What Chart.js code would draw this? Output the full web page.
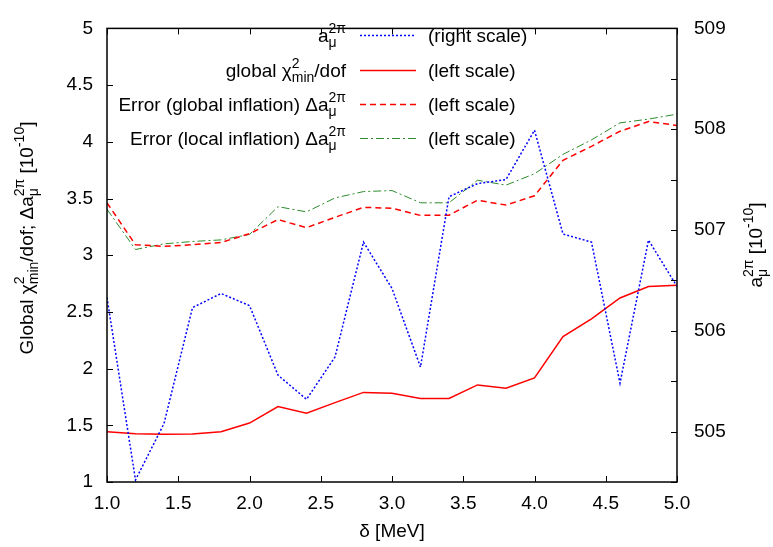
<!DOCTYPE html>
<html>
<head>
<meta charset="utf-8">
<script src="https://cdn.jsdelivr.net/npm/chart.js@4/dist/chart.umd.min.js"></script>
<style>
html,body{margin:0;padding:0;background:#fff;}
#c{display:block;}
</style>
</head>
<body>
<canvas id="c" width="773" height="547"></canvas>
<script>
// ---- data ----
const deltaValues = [1.0, 1.2, 1.4, 1.6, 1.8, 2.0, 2.2, 2.4, 2.6, 2.8, 3.0, 3.2, 3.4, 3.6, 3.8, 4.0, 4.2, 4.4, 4.6, 4.8, 5.0];
const amu2pi = [506.33, 504.52, 505.08, 506.23, 506.37, 506.25, 505.56, 505.32, 505.74, 506.88, 506.42, 505.64, 507.33, 507.46, 507.50, 507.99, 506.96, 506.88, 505.48, 506.90, 506.44];
const chi2dof = [1.443, 1.426, 1.420, 1.423, 1.443, 1.520, 1.665, 1.606, 1.700, 1.790, 1.782, 1.736, 1.736, 1.856, 1.827, 1.918, 2.282, 2.438, 2.623, 2.723, 2.734];
const errGlobal = [3.462, 3.092, 3.078, 3.092, 3.112, 3.190, 3.314, 3.243, 3.334, 3.422, 3.414, 3.351, 3.353, 3.485, 3.442, 3.524, 3.837, 3.960, 4.093, 4.179, 4.144];
const errLocal = [3.405, 3.050, 3.100, 3.121, 3.135, 3.183, 3.428, 3.382, 3.505, 3.561, 3.570, 3.462, 3.462, 3.661, 3.618, 3.718, 3.889, 4.017, 4.167, 4.200, 4.244];
const xTicks = [1.0, 1.5, 2.0, 2.5, 3.0, 3.5, 4.0, 4.5, 5.0];
const leftTicks = [1, 1.5, 2, 2.5, 3, 3.5, 4, 4.5, 5];
const rightTicks = [505, 506, 507, 508, 509];
const scaleNotes = ['(right scale)', '(left scale)', '(left scale)', '(left scale)'];

const FONT = '"Liberation Sans", Arial, sans-serif';
const FS = 19;
const pts = arr => deltaValues.map((x, i) => ({x: x, y: arr[i]}));

const styles = [
  {color: '#0000ff', dash: [2, 2], width: 1.5},
  {color: '#ff0000', dash: [], width: 1.5},
  {color: '#ff0000', dash: [6, 4], width: 1.5},
  {color: '#2e8b2e', dash: [8, 3, 2, 3], width: 1}
];

function drawRich(ctx, parts, x, y, align, size) {
  const big = size + 'px ' + FONT;
  const sm = Math.round(size * 0.72) + 'px ' + FONT;
  const widths = parts.map(p => {
    if (p.t !== undefined) { ctx.font = big; return ctx.measureText(p.t).width; }
    ctx.font = sm;
    return Math.max(p.sup ? ctx.measureText(p.sup).width : 0, p.sub ? ctx.measureText(p.sub).width : 0);
  });
  const total = widths.reduce((a, b) => a + b, 0);
  let cx = align === 'right' ? x - total : (align === 'center' ? x - total / 2 : x);
  ctx.textAlign = 'left';
  ctx.textBaseline = 'alphabetic';
  parts.forEach((p, i) => {
    if (p.t !== undefined) { ctx.font = big; ctx.fillText(p.t, cx, y); }
    else {
      ctx.font = sm;
      if (p.sup) ctx.fillText(p.sup, cx, y - size * 0.45);
      if (p.sub) ctx.fillText(p.sub, cx, y + size * 0.28);
    }
    cx += widths[i];
  });
}

const legendParts = [
  [{t: 'a'}, {sup: '2\u03c0', sub: '\u03bc'}],
  [{t: 'global \u03c7'}, {sup: '2', sub: 'min'}, {t: '/dof'}],
  [{t: 'Error (global inflation) \u0394a'}, {sup: '2\u03c0', sub: '\u03bc'}],
  [{t: 'Error (local inflation) \u0394a'}, {sup: '2\u03c0', sub: '\u03bc'}]
];

const decor = {
  id: 'decor',
  afterDraw(chart) {
    const ctx = chart.ctx;
    const a = chart.chartArea;
    const sx = chart.scales.x, sy = chart.scales.y, sy1 = chart.scales.y1;
    ctx.save();
    ctx.strokeStyle = '#000';
    ctx.lineWidth = 1.5;
    ctx.setLineDash([]);
    ctx.strokeRect(a.left, a.top, a.right - a.left, a.bottom - a.top);
    const L = 6;
    ctx.lineWidth = 1;
    ctx.beginPath();
    sx.ticks.forEach(t => {
      const px = Math.round(sx.getPixelForValue(t.value)) + 0.5;
      ctx.moveTo(px, a.bottom); ctx.lineTo(px, a.bottom - L);
      ctx.moveTo(px, a.top); ctx.lineTo(px, a.top + L);
    });
    sy.ticks.forEach(t => {
      const py = Math.round(sy.getPixelForValue(t.value)) + 0.5;
      ctx.moveTo(a.left, py); ctx.lineTo(a.left + L, py);
    });
    sy1.ticks.forEach(t => {
      const py = Math.round(sy1.getPixelForValue(t.value)) + 0.5;
      ctx.moveTo(a.right, py); ctx.lineTo(a.right - L, py);
    });
    ctx.stroke();

    // legend
    ctx.fillStyle = '#000';
    const rowY = [35, 70, 104, 138];
    rowY.forEach((ry, i) => {
      drawRich(ctx, legendParts[i], 346, ry + 7, 'right', FS);
      ctx.font = FS + 'px ' + FONT;
      ctx.textAlign = 'left';
      ctx.fillText(scaleNotes[i], 428, ry + 7);
      ctx.beginPath();
      ctx.strokeStyle = styles[i].color;
      ctx.lineWidth = styles[i].width;
      ctx.setLineDash(styles[i].dash);
      ctx.moveTo(360, ry + 0.5); ctx.lineTo(416, ry + 0.5);
      ctx.stroke();
      ctx.setLineDash([]);
    });

    // axis titles
    ctx.fillStyle = '#000';
    drawRich(ctx, [{t: '\u03b4 [MeV]'}], (a.left + a.right) / 2, 537, 'center', FS);
    ctx.save();
    ctx.translate(33, 238);
    ctx.rotate(-Math.PI / 2);
    drawRich(ctx, [{t: 'Global \u03c7'}, {sup: '2', sub: 'min'}, {t: '/dof; \u0394a'}, {sup: '2\u03c0', sub: '\u03bc'}, {t: ' [10'}, {sup: '-10'}, {t: ']'}], 0, 0, 'center', FS);
    ctx.restore();
    ctx.save();
    ctx.translate(762, 245);
    ctx.rotate(-Math.PI / 2);
    drawRich(ctx, [{t: 'a'}, {sup: '2\u03c0', sub: '\u03bc'}, {t: ' [10'}, {sup: '-10'}, {t: ']'}], 0, 0, 'center', FS);
    ctx.restore();
    ctx.restore();
  }
};

const datasets = [
  {label: 'a_mu^2pi', data: pts(amu2pi), yAxisID: 'y1'},
  {label: 'global chi2/dof', data: pts(chi2dof), yAxisID: 'y'},
  {label: 'Error (global inflation)', data: pts(errGlobal), yAxisID: 'y'},
  {label: 'Error (local inflation)', data: pts(errLocal), yAxisID: 'y'}
].map((d, i) => Object.assign(d, {
  borderColor: styles[i].color,
  borderDash: styles[i].dash,
  borderWidth: styles[i].width,
  pointRadius: 0,
  fill: false,
  tension: 0
}));

new Chart(document.getElementById('c'), {
  type: 'line',
  data: {datasets: datasets},
  plugins: [decor],
  options: {
    responsive: false,
    animation: false,
    devicePixelRatio: 1,
    layout: {padding: {top: 13, left: 0, right: 0, bottom: 0}},
    plugins: {legend: {display: false}, tooltip: {enabled: false}},
    scales: {
      x: {
        type: 'linear', min: 1, max: 5,
        afterBuildTicks: s => { s.ticks = xTicks.map(v => ({value: v})); },
        afterFit: s => { s.height = 65; },
        ticks: {color: '#000', font: {family: FONT, size: FS}, padding: 10, maxRotation: 0,
          callback: v => Number(v).toFixed(1)},
        grid: {display: false, drawTicks: false},
        border: {display: false}
      },
      y: {
        type: 'linear', position: 'left', min: 1, max: 5,
        afterBuildTicks: s => { s.ticks = leftTicks.map(v => ({value: v})); },
        afterFit: s => { s.width = 107; },
        ticks: {color: '#000', font: {family: FONT, size: FS}, padding: 14,
          callback: v => String(v)},
        grid: {display: false, drawTicks: false},
        border: {display: false}
      },
      y1: {
        type: 'linear', position: 'right', min: 504.5, max: 509,
        afterBuildTicks: s => {
          const arr = [];
          for (let k = 0; k <= 9; k++) arr.push({value: 504.5 + 0.5 * k});
          s.ticks = arr;
        },
        afterFit: s => { s.width = 96; },
        ticks: {color: '#000', font: {family: FONT, size: FS}, padding: 17,
          callback: v => rightTicks.includes(v) ? String(v) : ''},
        grid: {display: false, drawTicks: false},
        border: {display: false}
      }
    }
  }
});
</script>
</body>
</html>
